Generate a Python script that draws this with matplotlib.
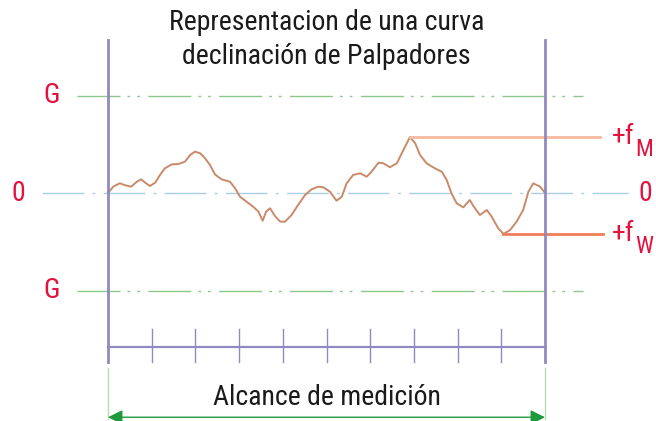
import numpy as np
import matplotlib.pyplot as plt

# fuente condensada como en la figura original
fonts = ['Roboto Condensed', 'Liberation Sans', 'DejaVu Sans']
plt.rcParams['font.family'] = fonts

# datos (x: alcance 0..10, y: desviación, G = ±1)
curve_x = [0, 0.12, 0.27, 0.39, 0.53, 0.66, 0.76, 0.85, 0.96, 1.08, 1.19, 1.30, 1.46,
           1.61, 1.76, 1.88, 1.99, 2.11, 2.22, 2.33, 2.45, 2.60, 2.79, 2.91, 3.02, 3.17,
           3.32, 3.44, 3.54, 3.62, 3.71, 3.82, 3.94, 4.05, 4.20, 4.35, 4.51, 4.66, 4.81,
           4.93, 5.08, 5.23, 5.35, 5.46, 5.61, 5.77, 5.92, 6.03, 6.19, 6.30, 6.45, 6.61,
           6.76, 6.91, 7.03, 7.14, 7.29, 7.48, 7.64, 7.75, 7.86, 7.98, 8.13, 8.28, 8.36,
           8.51, 8.67, 8.78, 8.93, 9.05, 9.20, 9.35, 9.50, 9.62, 9.73, 9.89, 10.0]
curve_y = [0, 0.065, 0.10, 0.08, 0.065, 0.116, 0.14, 0.106, 0.072, 0.106, 0.185, 0.253,
           0.294, 0.297, 0.321, 0.39, 0.424, 0.407, 0.356, 0.29, 0.19, 0.14, 0.116, 0.048,
           -0.038, -0.089, -0.14, -0.19, -0.284, -0.19, -0.157, -0.236, -0.294, -0.294,
           -0.226, -0.123, -0.02, 0.038, 0.065, 0.058, 0.013, -0.079, -0.038, 0.099, 0.185,
           0.202, 0.167, 0.218, 0.311, 0.305, 0.264, 0.305, 0.441, 0.574, 0.51, 0.39, 0.305,
           0.253, 0.218, 0.133, -0.003, -0.106, -0.147, -0.072, -0.133, -0.226, -0.174,
           -0.243, -0.362, -0.42, -0.38, -0.294, -0.174, 0.013, 0.099, 0.065, 0]
G = 1.0
ticks = [1, 2, 3, 4, 5, 6, 7, 8, 9]
range_end = 10
title = 'Representacion de una curva\ndeclinación de Palpadores'
xlabel = 'Alcance de medición'
f_labels = ['M', 'W']

red = '#e3123f'
purple = '#8f8ac0'

fig = plt.figure(figsize=(6.56, 4.21), dpi=100)
ax = fig.add_axes([0, 0, 1, 1])
ax.set_xlim(-108 / 43.7, (656 - 108) / 43.7)
ax.set_ylim(-(421 - 193) / 97.5, 193 / 97.5)
ax.axis('off')

# líneas G y cero
for g in (G, -G):
    ax.plot([-0.71, 10.86], [g, g], color='#8cc78c', lw=1.0, dashes=[31, 5, 2, 5, 2, 6])
ax.plot([-1.51, 11.9], [0, 0], color='#a9cfe6', lw=1.0, dashes=[30, 6, 2, 6])

# curva
ax.plot(curve_x, curve_y, color='#c98a6a', lw=1.4, solid_joinstyle='round',
        solid_capstyle='round')

# fM y fW
i_max = int(np.argmax(curve_y))
i_min = int(np.argmin(curve_y))
ax.plot([curve_x[i_max], 11.26], [curve_y[i_max]] * 2, color='#f7b9a0', lw=2.0)
ax.plot([curve_x[i_min], 11.33], [curve_y[i_min]] * 2, color='#ef7d5a', lw=2.0)

# ejes verticales y escala
for xv in (0, range_end):
    ax.plot([xv, xv], [-1.73, 1.57], color=purple, lw=2.0)
ax.plot([0, range_end], [-1.58, -1.58], color=purple, lw=1.6)
for t in ticks:
    ax.plot([t, t], [-1.39, -1.73], color=purple, lw=1.0)

# flecha de alcance
for xv in (0, range_end):
    ax.plot([xv, xv], [-1.79, -2.32], color='#b5ddb5', lw=1.0)
ax.annotate('', xy=(0, -2.30), xytext=(range_end, -2.30),
            arrowprops=dict(arrowstyle='<|-|>', color='#1e9a3c', lw=1.0,
                            mutation_scale=22, shrinkA=0, shrinkB=0))

# textos
fs = 20
ax.text(5, 1.575, title, ha='center', va='center', fontsize=fs, color='#1a1a1a', linespacing=1.3)
ax.text(5, -2.10, xlabel, ha='center', va='center', fontsize=fs, color='#1a1a1a')
ax.text(-1.30, G, 'G', ha='center', va='center', fontsize=fs, color=red)
ax.text(-1.30, -G, 'G', ha='center', va='center', fontsize=fs, color=red)
ax.text(-2.04, 0, '0', ha='center', va='center', fontsize=fs, color=red)
ax.text(12.30, 0, '0', ha='center', va='center', fontsize=fs, color=red)
for idx, sub in zip((i_max, i_min), f_labels):
    lvl = curve_y[idx]
    ax.annotate('+f', xy=(11.53, lvl), xytext=(0, -5), textcoords='offset points',
                ha='left', va='baseline', fontsize=fs, color=red)
    ax.annotate(sub, xy=(11.53, lvl), xytext=(17, -14), textcoords='offset points',
                ha='left', va='baseline', fontsize=17, color=red)

fig.savefig('out.png', dpi=100)
